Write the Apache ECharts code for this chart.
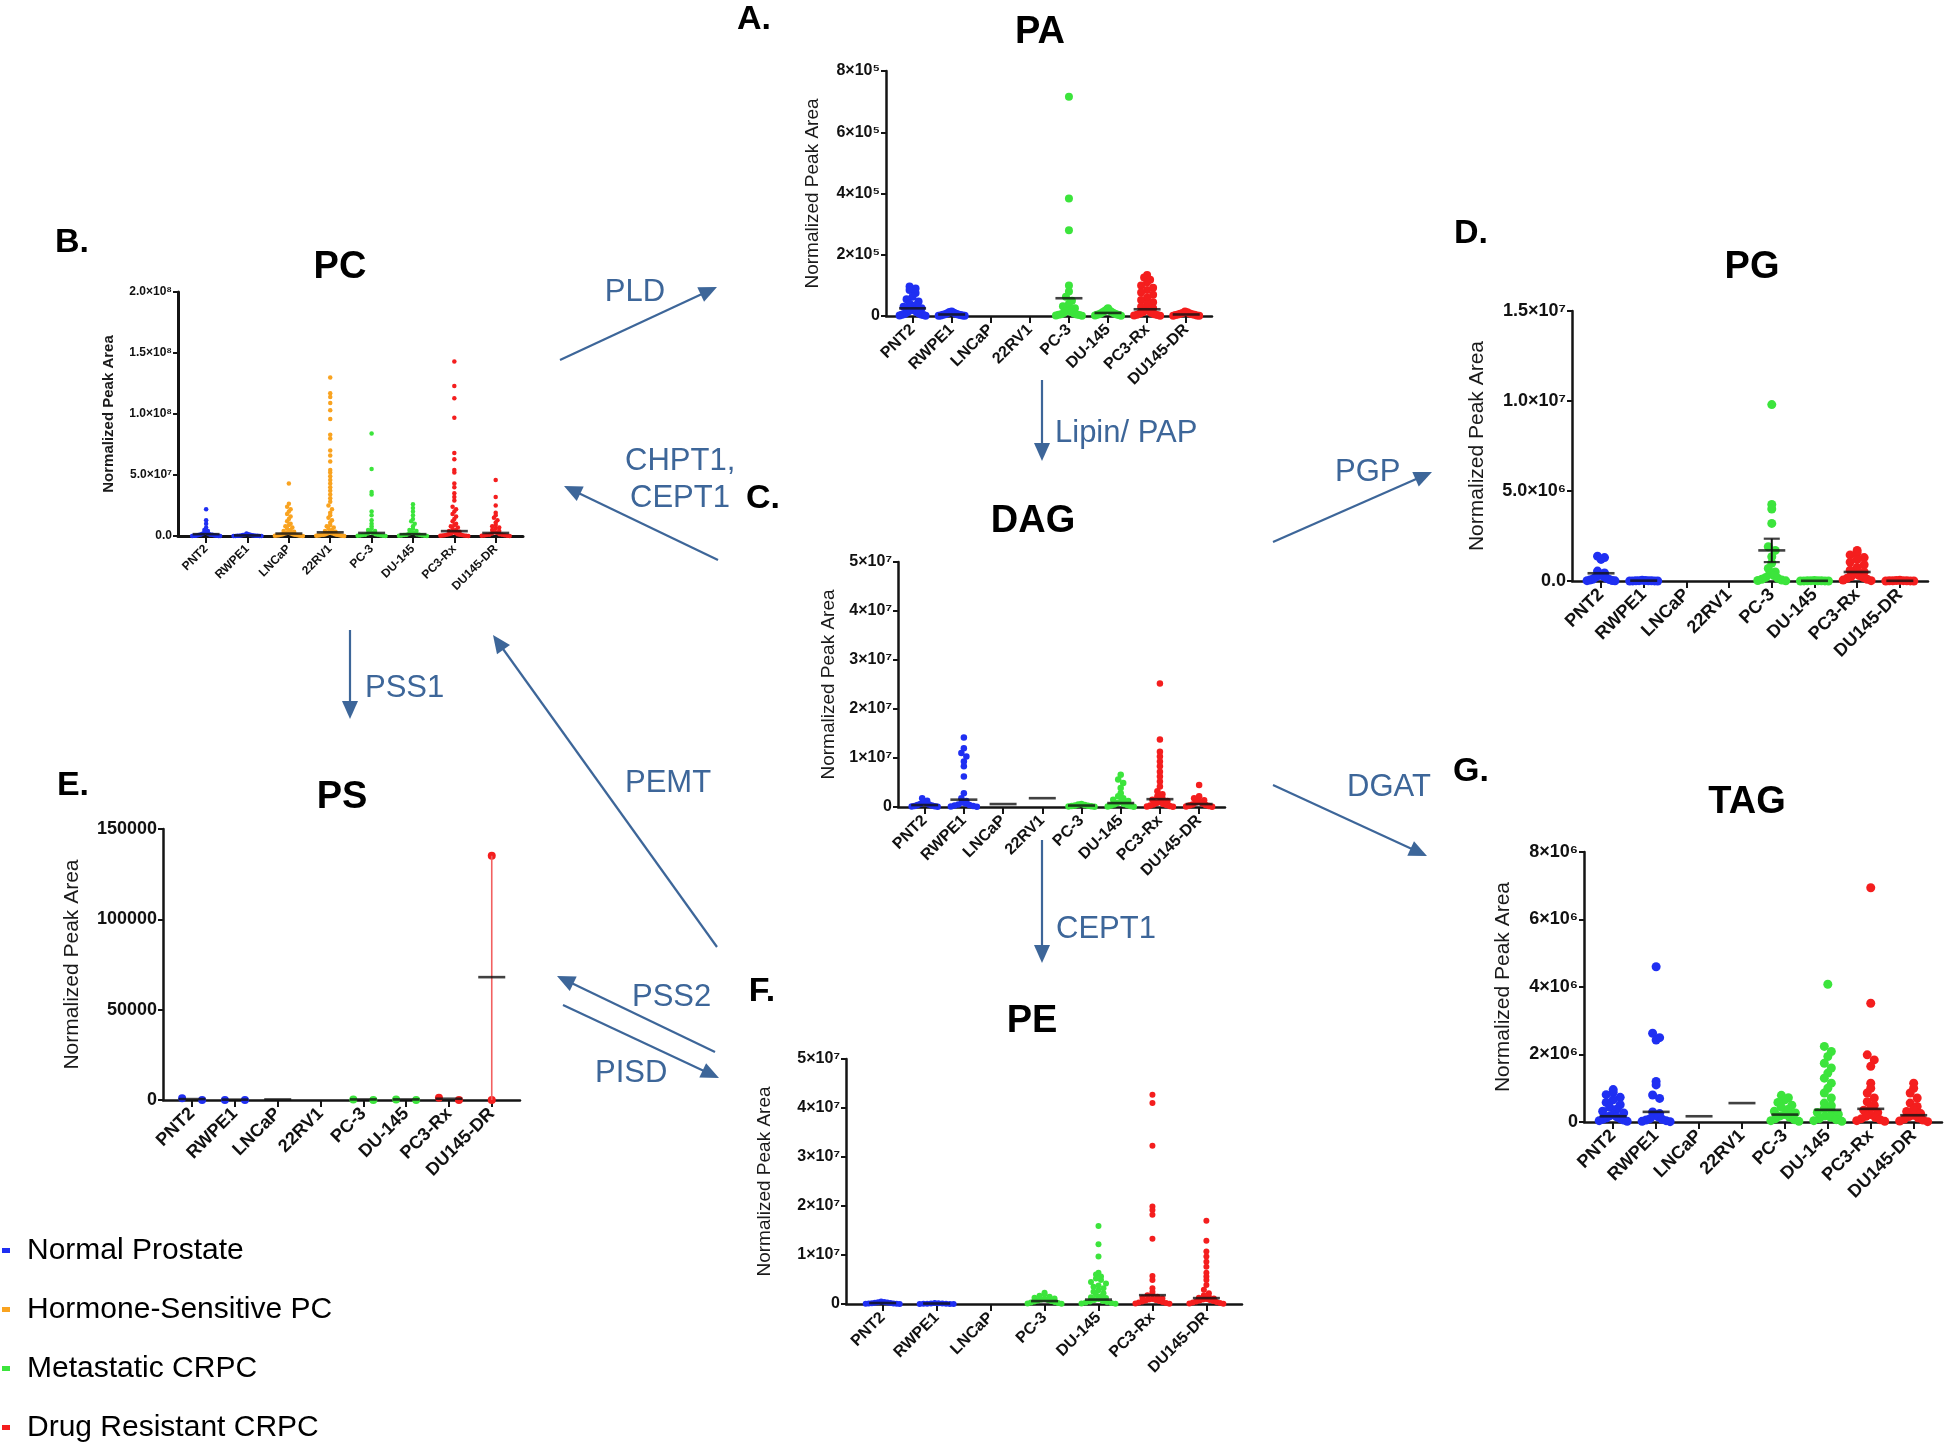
<!DOCTYPE html>
<html><head><meta charset="utf-8">
<script src="https://cdn.jsdelivr.net/npm/echarts/dist/echarts.min.js"></script>
<style>html,body{margin:0;padding:0;background:#fff}#c{width:1946px;height:1449px}</style>
</head><body><div id="c"></div>
<script>
// ---------------- DATA ----------------
const categories8 = ['PNT2','RWPE1','LNCaP','22RV1','PC-3','DU-145','PC3-Rx','DU145-DR'];
const categoriesPE = ['PNT2','RWPE1','LNCaP','PC-3','DU-145','PC3-Rx','DU145-DR'];
const groups8 = [0,0,1,1,2,2,3,3];
const groupsPE = [0,0,1,2,2,3,3];
const groupNames = ['Normal Prostate','Hormone-Sensitive PC','Metastatic CRPC','Drug Resistant CRPC'];
const yAxisTitle = 'Normalized Peak Area';

// PA
const paTicks = ['0','2×10⁵','4×10⁵','6×10⁵','8×10⁵'];
const paValues = [
  [9.6e4,9e4,8.5e4,7.5e4,6.3e4,5.5e4,4.7e4,4e4,3.5e4,3e4,2.5e4,2.2e4,2e4,1.8e4,1.5e4,1.2e4,1e4,8e3,6e3,5e3,4e3,3e3,2e3,1e3],
  [1.5e4,1.3e4,1.1e4,9e3,7e3,6e3,5e3,4e3,3e3,2e3,1.5e3,1e3,500],
  [],
  [],
  [7.16e5,3.84e5,2.8e5,1.0e5,8e4,6.3e4,5e4,4e4,3.2e4,2.5e4,2e4,1.6e4,1.2e4,1e4,8e3,6e3,5e3,4e3,3e3,2e3,1e3],
  [2.5e4,2.2e4,2e4,1.7e4,1.5e4,1.3e4,1.1e4,9e3,7e3,6e3,5e3,4e3,3e3,2e3,1e3],
  [1.34e5,1.26e5,1.18e5,1.1e5,1.0e5,9.2e4,8.5e4,7.7e4,6.9e4,6e4,5.2e4,4.5e4,3.8e4,3e4,2.5e4,2e4,1.6e4,1.2e4,1e4,8e3,6e3,4e3,3e3,2e3,1e3],
  [1.5e4,1.2e4,1e4,8e3,7e3,6e3,5e3,4e3,3e3,2e3,1e3,500]
];
const paMeans = [2.5e4,5e3,null,null,5.8e4,1e4,2.2e4,5e3];

// PC
const pcTicks = ['0.0','5.0×10⁷','1.0×10⁸','1.5×10⁸','2.0×10⁸'];
const pcValues = [
  [2.2e7,1.3e7,1.0e7,7e6,5e6,4e6,3e6,3e6,2e6,2e6,1.5e6,1.5e6,1e6,1e6,1e6,8e5,6e5,5e5,4e5,3e5,2e5,2e5,1e5,1e5,5e4],
  [2e6,1.5e6,1e6,1e6,8e5,6e5,5e5,4e5,3e5,3e5,2e5,2e5,1e5,1e5,5e4,5e4],
  [4.3e7,2.65e7,2.4e7,2.2e7,2e7,1.8e7,1.6e7,1.4e7,1.2e7,1e7,9e6,8e6,7e6,6e6,5e6,4e6,3.5e6,3e6,2.5e6,2e6,2e6,1.5e6,1.5e6,1e6,1e6,8e5,6e5,5e5,4e5,3e5,2e5,1e5],
  [1.30e8,1.17e8,1.14e8,1.09e8,1.03e8,9.6e7,8.3e7,8.0e7,7.0e7,6.6e7,6.1e7,5.4e7,5.2e7,4.9e7,4.6e7,4.3e7,4.0e7,3.7e7,3.4e7,3.1e7,2.8e7,2.5e7,2.2e7,1.9e7,1.7e7,1.5e7,1.3e7,1.1e7,9e6,8e6,7e6,6e6,5e6,4e6,3.5e6,3e6,2.5e6,2e6,2e6,1.5e6,1.5e6,1e6,1e6,1e6,8e5,6e5,5e5,4e5,3e5,2e5,1e5],
  [8.4e7,5.5e7,3.6e7,3.4e7,2.0e7,1.7e7,1.3e7,1.0e7,8e6,6e6,5e6,4e6,3e6,2.5e6,2e6,1.5e6,1e6,1e6,8e5,6e5,5e5,3e5,2e5,1e5],
  [2.6e7,2.3e7,2e7,1.7e7,1.4e7,1.2e7,1e7,8e6,6e6,5e6,4e6,3e6,2.5e6,2e6,1.5e6,1e6,1e6,8e5,6e5,5e5,3e5,2e5,1e5],
  [1.43e8,1.23e8,1.13e8,9.7e7,6.8e7,6.3e7,5.4e7,5.2e7,4.3e7,4.0e7,3.5e7,3.2e7,2.9e7,2.4e7,2.2e7,2e7,1.8e7,1.6e7,1.4e7,1.2e7,1e7,9e6,8e6,7e6,6e6,5e6,4e6,3.5e6,3e6,2.5e6,2e6,1.5e6,1.5e6,1e6,1e6,8e5,6e5,5e5,4e5,3e5,2e5,1e5],
  [4.6e7,3.2e7,2.5e7,1.9e7,1.7e7,1.5e7,1.3e7,1.1e7,9e6,8e6,7e6,6e6,5e6,4e6,3e6,2.5e6,2e6,1.5e6,1e6,1e6,8e5,6e5,5e5,3e5,2e5,1e5]
];
const pcMeans = [1.5e6,5e5,2e6,3e6,2.5e6,1.5e6,4e6,2.5e6];

// PG
const pgTicks = ['0.0','5.0×10⁶','1.0×10⁷','1.5×10⁷'];
const pgValues = [
  [1.38e6,1.3e6,1.2e6,5.5e5,4.5e5,3.5e5,3e5,2.5e5,2e5,1.5e5,1e5,8e4,5e4,3e4,2e4,1e4],
  [4e4,3e4,2e4,1.5e4,1e4,8e3,6e3,4e3,2e3,1e3],
  [],
  [],
  [9.8e6,4.25e6,4.0e6,3.2e6,1.9e6,1.7e6,1.35e6,1.0e6,7e5,5e5,4e5,3e5,2e5,1.5e5,1e5,5e4,3e4,1e4],
  [3e4,2e4,1.5e4,1e4,8e3,6e3,4e3,2e3,1e3],
  [1.7e6,1.55e6,1.45e6,1.3e6,1.2e6,1.05e6,9e5,7.5e5,6e5,5e5,4e5,3e5,2.5e5,2e5,1.5e5,1e5,5e4,2e4],
  [4e4,3e4,2e4,1.5e4,1e4,8e3,5e3,3e3,1e3]
];
const pgMeans = [4.3e5,2e4,null,null,1.7e6,1e4,5e5,1e4];
const pgErrorBars = [{cat:4, lo:1.05e6, hi:2.35e6}];

// DAG
const dagTicks = ['0','1×10⁷','2×10⁷','3×10⁷','4×10⁷','5×10⁷'];
const dagValues = [
  [1.8e6,1.3e6,1e6,8e5,6e5,5e5,4e5,3e5,2e5,1.5e5,1e5,5e4],
  [1.42e7,1.2e7,1.1e7,1.03e7,9.3e6,8.3e6,6.2e6,2.8e6,1.8e6,1.2e6,9e5,7e5,5e5,4e5,3e5,2e5,1e5,5e4],
  [],
  [],
  [6e5,5e5,4e5,3e5,2.5e5,2e5,1.5e5,1e5,5e4],
  [6.6e6,5.6e6,4.9e6,3.9e6,2.8e6,2.2e6,1.8e6,1.5e6,1.2e6,1e6,8e5,6e5,5e5,4e5,3e5,2e5,1e5,5e4],
  [2.52e7,1.38e7,1.13e7,1.03e7,9.3e6,8.3e6,7.2e6,6.2e6,5.2e6,4.2e6,3.2e6,2.6e6,2.2e6,1.8e6,1.5e6,1.2e6,1e6,8e5,6e5,5e5,4e5,3e5,2e5,1e5,5e4],
  [4.5e6,2.2e6,1.8e6,1.4e6,1.1e6,9e5,7e5,5e5,4e5,3e5,2e5,1e5,5e4]
];
const dagMeans = [4e5,1.5e6,6e5,1.8e6,3e5,8e5,1.6e6,6e5];

// PS
const psTicks = ['0','50000','100000','150000'];
const psValues = [
  [0,900],
  [0,0],
  [],
  [],
  [0,300],
  [0,300],
  [0,1200],
  [0,135200]
];
const psMeans = [500,200,300,null,300,300,700,68000];
const psErrorBars = [{cat:7, lo:0, hi:135200}];

// PE
const peTicks = ['0','1×10⁷','2×10⁷','3×10⁷','4×10⁷','5×10⁷'];
const peValues = [
  [5e5,4e5,3.5e5,3e5,2.5e5,2e5,1.5e5,1e5,8e4,5e4,3e4,1e4],
  [2e5,1.5e5,1e5,8e4,6e4,4e4,3e4,2e4,1e4,5e3],
  [],
  [2.3e6,2e6,1.7e6,1.5e6,1.3e6,1.1e6,1e6,9e5,8e5,7e5,6e5,5e5,4e5,3e5,2e5,1e5,5e4],
  [1.59e7,1.22e7,9.7e6,6.4e6,6e6,5.6e6,5.2e6,4.9e6,4.5e6,4.2e6,3.8e6,3.5e6,3.2e6,2.8e6,2.5e6,2.2e6,1.9e6,1.6e6,1.4e6,1.2e6,1e6,8e5,6e5,5e5,4e5,3e5,2e5,1e5,5e4],
  [4.27e7,4.1e7,3.23e7,1.99e7,1.92e7,1.82e7,1.33e7,5.7e6,4.9e6,3.2e6,2.5e6,2e6,1.8e6,1.5e6,1.3e6,1.1e6,1e6,9e5,8e5,7e5,6e5,5e5,4e5,3e5,2e5,1e5,5e4],
  [1.7e7,1.29e7,1.07e7,9.7e6,8.6e6,7.6e6,6.4e6,5.6e6,4.9e6,3.9e6,2.9e6,2.2e6,1.8e6,1.5e6,1.3e6,1.1e6,1e6,9e5,8e5,7e5,6e5,5e5,4e5,3e5,2e5,1e5,5e4]
];
const peMeans = [2e5,1e5,null,6e5,9e5,1.8e6,1.2e6];

// TAG
const tagTicks = ['0','2×10⁶','4×10⁶','6×10⁶','8×10⁶'];
const tagValues = [
  [9.6e5,8.8e5,8.1e5,7.3e5,6.6e5,5.8e5,5.1e5,4.4e5,3.8e5,3.2e5,2.7e5,2.2e5,1.8e5,1.5e5,1.2e5,1e5,8e4,6e4,4e4,2e4],
  [4.6e6,2.63e6,2.5e6,2.43e6,1.2e6,1.1e6,8e5,7e5,3e5,2.5e5,2e5,1.5e5,1e5,8e4,6e4,4e4,2e4,1e4],
  [],
  [],
  [7.9e5,7.2e5,6.6e5,5.8e5,5e5,4.4e5,3.8e5,3.2e5,2.7e5,2.2e5,1.8e5,1.4e5,1e5,7e4,4e4,2e4],
  [4.08e6,2.24e6,2.09e6,1.94e6,1.74e6,1.6e6,1.45e6,1.3e6,1.15e6,1.0e6,8.6e5,7.1e5,5.6e5,4.8e5,4e5,3.4e5,2.8e5,2.3e5,1.8e5,1.4e5,1e5,7e4,4e4,2e4],
  [6.94e6,3.52e6,1.99e6,1.84e6,1.65e6,1.15e6,1.0e6,8.6e5,7.1e5,6e5,5e5,4.2e5,3.5e5,2.8e5,2.2e5,1.7e5,1.3e5,1e5,7e4,4e4,2e4],
  [1.15e6,1.0e6,8.6e5,7.1e5,5.6e5,4.6e5,3.8e5,3.1e5,2.5e5,2e5,1.6e5,1.2e5,9e4,6e4,3e4,1e4]
];
const tagMeans = [1.7e5,3e5,1.7e5,5.6e5,2.2e5,3.6e5,3.9e5,2e5];

// Pathway (enzyme) labels
const pathwayLabels = ['PLD','CHPT1,','CEPT1','PSS1','PEMT','PSS2','PISD','Lipin/ PAP','PGP','DGAT','CEPT1'];

// ---------------- STYLE / LAYOUT ----------------
const groupColors = ['#1f2ff2','#f9a320','#3ce43c','#f41e1e'];
const FONT = '"Liberation Sans", Arial, Helvetica, sans-serif';
const AX = '#141414';
const PATH_BLUE = '#3d6699';

const panels = [
  {title:'PA', letter:'A.', cats:categories8, grp:groups8, values:paValues, means:paMeans, ticks:paTicks, interval:2e5,
   grid:{left:886, top:71, width:326, height:245}, dot:8, d:6, half:13, tickFont:16, catFont:16, nameFont:19, nameBold:false, nameGap:64, axisW:2.5,
   titlePos:[1040,33], letterPos:[754,20]},
  {title:'PC', letter:'B.', cats:categories8, grp:groups8, values:pcValues, means:pcMeans, ticks:pcTicks, interval:5e7,
   grid:{left:178, top:292, width:345, height:244}, dot:4.5, d:3.5, half:14, tickFont:12, catFont:12, nameFont:15, nameBold:true, nameGap:62, axisW:3,
   titlePos:[340,268], letterPos:[72,243]},
  {title:'PG', letter:'D.', cats:categories8, grp:groups8, values:pgValues, means:pgMeans, ticks:pgTicks, interval:5e6, err:pgErrorBars, errColor:'#111',
   grid:{left:1572, top:311, width:356, height:270}, dot:9, d:7, half:14, tickFont:18, catFont:18, nameFont:21, nameBold:false, nameGap:84, axisW:2.5,
   titlePos:[1752,268], letterPos:[1471,234]},
  {title:'DAG', letter:'C.', cats:categories8, grp:groups8, values:dagValues, means:dagMeans, ticks:dagTicks, interval:1e7,
   grid:{left:898, top:562, width:327, height:245}, dot:6.5, d:5, half:13, tickFont:16, catFont:16, nameFont:19, nameBold:false, nameGap:60, axisW:2.5,
   titlePos:[1033,522], letterPos:[763,499]},
  {title:'PS', letter:'E.', cats:categories8, grp:groups8, values:psValues, means:psMeans, ticks:psTicks, interval:5e4, err:psErrorBars, errColor:'#f26060',
   grid:{left:163, top:829, width:357, height:271}, dot:8, d:20, half:10, tickFont:18, catFont:18, nameFont:21, nameBold:false, nameGap:80, axisW:2.5,
   titlePos:[342,798], letterPos:[73,786]},
  {title:'PE', letter:'F.', cats:categoriesPE, grp:groupsPE, values:peValues, means:peMeans, ticks:peTicks, interval:1e7,
   grid:{left:846, top:1059, width:396, height:245}, dot:6, d:5, half:17, tickFont:16, catFont:16, nameFont:19, nameBold:false, nameGap:72, axisW:2.5,
   titlePos:[1032,1022], letterPos:[762,992]},
  {title:'TAG', letter:'G.', cats:categories8, grp:groups8, values:tagValues, means:tagMeans, ticks:tagTicks, interval:2e6,
   grid:{left:1584, top:852, width:358, height:270}, dot:9, d:7, half:14, tickFont:18, catFont:18, nameFont:21, nameBold:false, nameGap:70, axisW:2.5,
   titlePos:[1747,803], letterPos:[1471,772]}
];

// beeswarm-style horizontal spread (layout only; values untouched)
function swarm(vals, max, H, rowH, d, half){
  const bins = new Map();
  vals.forEach((v,i)=>{
    const b = Math.floor(v/max*H/rowH);
    if(!bins.has(b)) bins.set(b, []);
    bins.get(b).push(i);
  });
  const off = new Array(vals.length).fill(0);
  bins.forEach(list=>{
    const n = list.length;
    if(n < 2) return;
    let step = d;
    if((n-1)*step/2 > half) step = 2*half/(n-1);
    const pos = [];
    for(let k=0;k<n;k++) pos.push((k-(n-1)/2)*step);
    pos.sort((a,b)=>Math.abs(a)-Math.abs(b) || a-b);
    const byVal = list.slice().sort((a,b)=>vals[b]-vals[a]);
    byVal.forEach((i,k)=>{ off[i] = pos[k]; });
  });
  return off;
}

const grids=[], xAxes=[], yAxes=[], series=[];
panels.forEach((p, pi)=>{
  const n = p.cats.length;
  const max = p.interval*(p.ticks.length-1);
  grids.push(Object.assign({containLabel:false}, p.grid));
  const idxs = p.cats.map((c,i)=>i);
  xAxes.push({
    type:'value', gridIndex:pi, min:-0.68, max:n-1+0.66,
    splitLine:{show:false},
    axisLine:{show:true, onZero:false, lineStyle:{color:AX, width:p.axisW}},
    axisTick:{show:true, customValues:idxs, length:7, lineStyle:{color:AX, width:2}},
    axisLabel:{show:true, customValues:idxs, rotate:45, margin:11, formatter:(v)=>p.cats[Math.round(v)],
      fontFamily:FONT, fontWeight:'bold', fontSize:p.catFont, color:'#111'}
  });
  yAxes.push({
    type:'value', gridIndex:pi, min:0, max:max, interval:p.interval,
    splitLine:{show:false},
    axisLine:{show:true, onZero:false, lineStyle:{color:AX, width:p.axisW}},
    axisTick:{show:true, length:5, lineStyle:{color:AX, width:2}},
    axisLabel:{margin:6, formatter:(v)=>p.ticks[Math.round(v/p.interval)], fontFamily:FONT, fontWeight:'bold', fontSize:p.tickFont, color:'#111'},
    name:yAxisTitle, nameLocation:'middle', nameGap:p.nameGap,
    nameTextStyle:{fontFamily:FONT, fontSize:p.nameFont, fontWeight:p.nameBold?'bold':'normal', color:'#1a1a1a'}
  });
  const H = p.grid.height;
  const byGroup = {};
  p.values.forEach((vals, ci)=>{
    const off = swarm(vals, max, H, p.dot*0.85, p.d, p.half);
    const g = p.grp[ci];
    if(!byGroup[g]) byGroup[g]=[];
    vals.forEach((v,k)=>byGroup[g].push({value:[ci, v], symbolOffset:[off[k],0]}));
  });
  Object.keys(byGroup).forEach(g=>{
    series.push({type:'scatter', name:groupNames[g], xAxisIndex:pi, yAxisIndex:pi, symbol:'circle', symbolSize:p.dot,
      itemStyle:{color:groupColors[g], opacity:1}, data:byGroup[g], z:3, silent:true});
  });
  (p.err||[]).forEach(e=>{
    series.push({type:'line', xAxisIndex:pi, yAxisIndex:pi, data:[[e.cat,e.lo],[e.cat,e.hi]], symbol:'none',
      lineStyle:{color:p.errColor, width:p.errColor==='#111'?2:1.6}, z:4, silent:true});
    if(p.errColor==='#111'){
      series.push({type:'scatter', xAxisIndex:pi, yAxisIndex:pi, symbol:'rect', symbolSize:[16,2.2],
        itemStyle:{color:'#111'}, data:[[e.cat,e.hi],[e.cat,e.lo]], z:5, silent:true});
    }
  });
  const md = [];
  p.means.forEach((m,ci)=>{ if(m!==null) md.push([ci,m]); });
  series.push({type:'scatter', xAxisIndex:pi, yAxisIndex:pi, symbol:'rect', symbolSize:[27,2.6],
    itemStyle:{color:'#111'}, data:md, z:6, silent:true});
});

// ---------------- GRAPHICS: titles, letters, pathway arrows, legend ----------------
const graphic = [];
function txt(x,y,text,size,weight,color,align){
  graphic.push({type:'text', x:x, y:y, silent:true, z:10,
    style:{text:text, fontFamily:FONT, fontSize:size, fontWeight:weight, fill:color, align:align||'center', verticalAlign:'middle'}});
}
panels.forEach(p=>{
  txt(p.titlePos[0], p.titlePos[1], p.title, 38, 'bold', '#000');
  txt(p.letterPos[0], p.letterPos[1], p.letter, 34, 'bold', '#000');
});
function arrow(x1,y1,x2,y2){
  const L=18, W=8, a=Math.atan2(y2-y1,x2-x1);
  const bx=x2-L*Math.cos(a), by=y2-L*Math.sin(a);
  graphic.push({type:'line', silent:true, z:9, shape:{x1:x1,y1:y1,x2:bx+2*Math.cos(a),y2:by+2*Math.sin(a)}, style:{stroke:PATH_BLUE, lineWidth:2.2}});
  graphic.push({type:'polygon', silent:true, z:9, shape:{points:[[x2,y2],[bx+W*Math.sin(a), by-W*Math.cos(a)],[bx-W*Math.sin(a), by+W*Math.cos(a)]]}, style:{fill:PATH_BLUE}});
}
arrow(560,360,717,287);   // PLD
arrow(718,560,564,486);   // CHPT1, CEPT1
arrow(350,630,350,719);   // PSS1
arrow(717,947,493,635);   // PEMT
arrow(715,1052,557,976);  // PSS2
arrow(563,1005,719,1078); // PISD
arrow(1042,380,1042,461); // Lipin/PAP
arrow(1273,542,1432,472); // PGP
arrow(1273,785,1427,856); // DGAT
arrow(1042,840,1042,963); // CEPT1
const PF = 31;
txt(635,292,pathwayLabels[0],PF,'normal',PATH_BLUE);
txt(625,461,pathwayLabels[1],PF,'normal',PATH_BLUE,'left');
txt(630,498,pathwayLabels[2],PF,'normal',PATH_BLUE,'left');
txt(365,688,pathwayLabels[3],PF,'normal',PATH_BLUE,'left');
txt(625,783,pathwayLabels[4],PF,'normal',PATH_BLUE,'left');
txt(632,997,pathwayLabels[5],PF,'normal',PATH_BLUE,'left');
txt(595,1073,pathwayLabels[6],PF,'normal',PATH_BLUE,'left');
txt(1055,433,pathwayLabels[7],PF,'normal',PATH_BLUE,'left');
txt(1335,472,pathwayLabels[8],PF,'normal',PATH_BLUE,'left');
txt(1347,787,pathwayLabels[9],PF,'normal',PATH_BLUE,'left');
txt(1056,929,pathwayLabels[10],PF,'normal',PATH_BLUE,'left');

// legend
const legendY = [1251,1310,1369,1428];
groupNames.forEach((nm,i)=>{
  graphic.push({type:'rect', silent:true, z:10, shape:{x:2,y:legendY[i]-3,width:8,height:5}, style:{fill:groupColors[i]}});
  txt(27, legendY[i], nm, 30, 'normal', '#000', 'left');
});

const chart = echarts.init(document.getElementById('c'), null, {renderer:'canvas'});
chart.setOption({
  backgroundColor:'#fff',
  animation:false,
  grid:grids, xAxis:xAxes, yAxis:yAxes, series:series,
  graphic:graphic
});
</script></body></html>
